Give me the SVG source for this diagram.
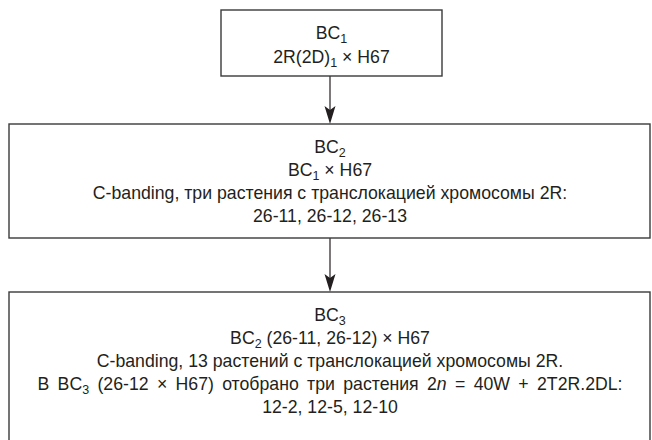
<svg xmlns="http://www.w3.org/2000/svg" width="652" height="440" viewBox="0 0 652 440">
  <style>
    .box { fill: #ffffff; stroke: #3a3a3a; stroke-width: 1.4; }
    .t { font-family: "Liberation Sans", Arial, sans-serif; font-size: 17.7px; fill: #231f20; text-anchor: middle; }
    .sub { font-size: 12.5px; }
    .it { font-style: italic; }
    .wide { word-spacing: 3.4px; }
    .conn { stroke: #231f20; stroke-width: 1.2; fill: none; }
    .head { fill: #231f20; stroke: none; }
  </style>
  <rect width="652" height="440" fill="#ffffff"/>
  <g id="connectors">
    <line class="conn" x1="330" y1="76" x2="330" y2="112"/>
    <path class="head" d="M330,124 L324.5,106 L330,110 L335.5,106 Z"/>
    <line class="conn" x1="330" y1="238" x2="330" y2="280"/>
    <path class="head" d="M330,292 L324.5,274 L330,278 L335.5,274 Z"/>
  </g>
  <g id="bc1">
    <rect class="box" x="221" y="10" width="221" height="66"/>
    <text class="t" x="331.5" y="39">BC<tspan class="sub" dy="4">1</tspan></text>
    <text class="t" x="331.5" y="63">2R(2D)<tspan class="sub" dy="4">1</tspan><tspan dy="-4"> × H67</tspan></text>
  </g>
  <g id="bc2">
    <rect class="box" x="9" y="124" width="641" height="114"/>
    <text class="t" x="330" y="153">BC<tspan class="sub" dy="4">2</tspan></text>
    <text class="t" x="330" y="176">BC<tspan class="sub" dy="4">1</tspan><tspan dy="-4"> × H67</tspan></text>
    <text class="t" x="330" y="199">C-banding, три растения с транслокацией хромосомы 2R:</text>
    <text class="t" x="330" y="222">26-11, 26-12, 26-13</text>
  </g>
  <g id="bc3">
    <rect class="box" x="9" y="292" width="641" height="160"/>
    <text class="t" x="330" y="321">BC<tspan class="sub" dy="4">3</tspan></text>
    <text class="t" x="330" y="344">BC<tspan class="sub" dy="4">2</tspan><tspan dy="-4"> (26-11, 26-12) × H67</tspan></text>
    <text class="t" x="330" y="367">C-banding, 13 растений с транслокацией хромосомы 2R.</text>
    <text class="t wide" x="330" y="390">В BC<tspan class="sub" dy="4">3</tspan><tspan dy="-4"> (26-12 × H67) отобрано три растения 2</tspan><tspan class="it">n</tspan> = 40W + 2T2R.2DL:</text>
    <text class="t" x="330" y="413">12-2, 12-5, 12-10</text>
  </g>
</svg>
